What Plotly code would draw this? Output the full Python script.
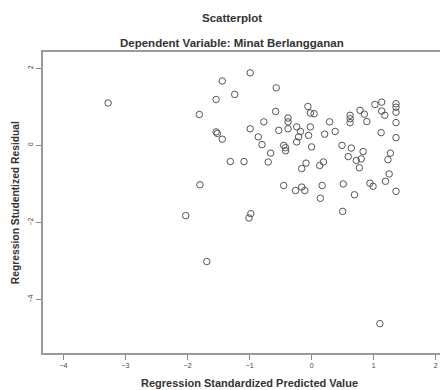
import plotly.graph_objects as go

pred = [-3.28, -1.44, -1.24, -1.54, -1.81, -1.54, -1.52, -1.44, -1.31, -1.80,
        -2.03, -1.69, 1.10, -0.99, -0.57, -0.06, -0.02, 0.04, -0.58, -0.77,
        -0.99, -0.38, -0.38, -0.53, -0.38, -0.24, -0.18, -0.21, -0.24, -0.05,
        -0.02, -0.86, -0.80, -0.66, -0.70, -1.09, -0.45, -0.42, -0.42, 0.00,
        0.21, 0.29, 0.38, -0.09, -0.16, 0.13, 0.19, -0.45, -0.26, -0.16,
        -0.11, 0.17, 0.14, 0.51, 0.69, 0.62, 0.62, 0.62, 0.78, 0.85,
        0.89, 0.49, 0.64, 0.83, 0.59, 0.72, 0.80, 0.77, 1.02, 1.13,
        1.13, 1.18, 1.36, 1.36, 1.36, 1.36, 1.12, 1.36, 1.27, 1.23,
        1.25, 1.19, 0.94, 0.99, 1.36, 0.50, -0.98, -1.01]
resid = [1.10, 1.67, 1.32, 1.19, 0.80, 0.35, 0.31, 0.16, -0.42, -1.02,
         -1.82, -3.01, -4.62, 1.88, 1.49, 1.01, 0.84, 0.82, 0.88, 0.61,
         0.43, 0.71, 0.61, 0.39, 0.43, 0.48, 0.36, 0.22, 0.09, 0.26,
         0.48, 0.22, 0.02, -0.20, -0.43, -0.42, 0.00, -0.06, -0.14, -0.04,
         0.29, 0.61, 0.36, -0.46, -0.60, -0.52, -0.43, -1.04, -1.17, -1.08,
         -1.17, -1.04, -1.37, -1.00, -1.28, 0.78, 0.69, 0.59, 0.91, 0.81,
         0.62, 0.00, -0.07, -0.16, -0.29, -0.39, -0.35, -0.58, 1.06, 1.12,
         0.89, 0.78, 1.08, 0.99, 0.86, 0.59, 0.33, 0.20, -0.20, -0.37,
         -0.74, -0.93, -0.98, -1.06, -1.19, -1.71, -1.77, -1.88]

x_ticks = [-4, -3, -2, -1, 0, 1, 2]
y_ticks = [-4, -2, 0, 2]

title_text = "Scatterplot"
subtitle_text = "Dependent Variable: Minat Berlangganan"
x_title = "Regression Standardized Predicted Value"
y_title = "Regression Studentized Residual"

# The page body has a default 8px margin, so the figure starts at (8, 8) in the window.
OFF = 8
W, H = 448, 390
# desired plot-area edges in window pixels
PL, PR, PT, PB = 43, 447, 52, 353
L = PL - OFF
T = PT - OFF
R = (W + OFF) - PR
B = (H + OFF) - PB

fig = go.Figure(go.Scatter(
    x=pred, y=resid, mode="markers",
    marker=dict(symbol="circle-open", size=6.5, color="#555555", line=dict(width=1, color="#555555")),
    hoverinfo="x+y",
))

axis_common = dict(
    showgrid=False, zeroline=False, showline=True, linecolor="#9a9a9a", linewidth=1.5,
    mirror=True, ticks="outside", ticklen=5, tickcolor="#888888", tickwidth=1,
    tickfont=dict(family="Liberation Sans, Arial", size=7, color="#444444"),
)

fig.update_layout(
    width=W, height=H,
    margin=dict(l=L, r=R, t=T, b=B),
    paper_bgcolor="white", plot_bgcolor="white",
    showlegend=False,
    xaxis=dict(range=[-4.33, 2.15], tickvals=x_ticks, **axis_common),
    yaxis=dict(range=[-5.38, 2.42], tickvals=y_ticks, tickangle=-90, **axis_common),
    font=dict(family="Liberation Sans, Arial", color="#222222"),
)

plot_w = PR - PL
plot_h = PB - PT


def add_text(text, wx, wy, size, angle=0):
    # wx, wy are window pixel coordinates of the text centre
    fig.add_annotation(
        text="<b>" + text + "</b>",
        x=(wx - PL) / plot_w, y=1 - (wy - PT) / plot_h,
        xref="paper", yref="paper", xanchor="center", yanchor="middle",
        showarrow=False, textangle=angle,
        font=dict(size=size, color="#333333"),
    )


add_text(title_text, 233, 18, 11.5)
add_text(subtitle_text, 233, 43, 11.5)
add_text(x_title, 251, 383, 11)
add_text(y_title, 15, 203, 10.3, angle=-90)

fig.write_html("out.html")
